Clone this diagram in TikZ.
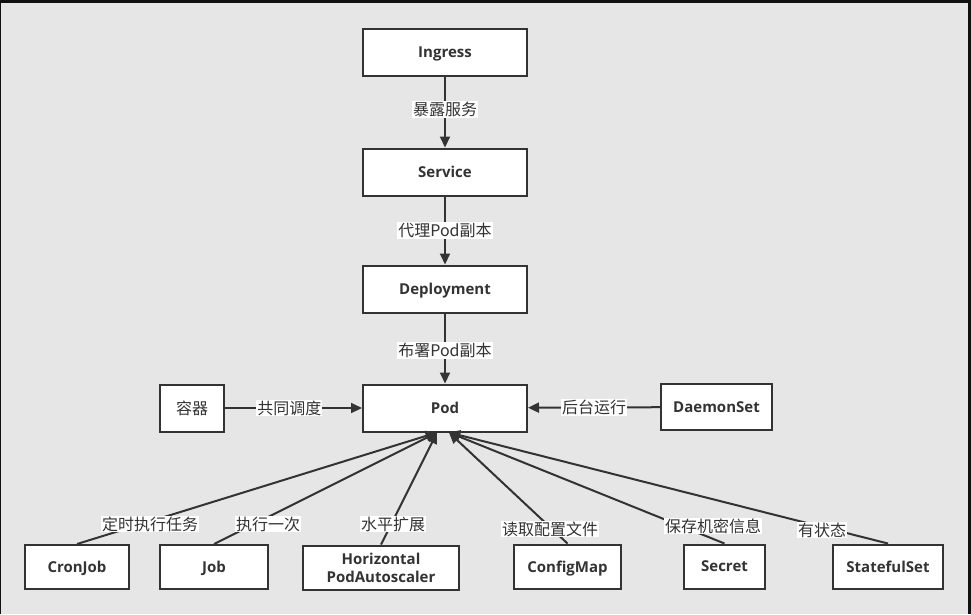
\documentclass[tikz,border=0pt]{standalone}
\usepackage{fontspec}
\setmainfont{Open Sans}
\newfontfamily\cjk{Noto Sans CJK SC}
\usetikzlibrary{arrows.meta}
\definecolor{bg}{HTML}{E6E6E6}
\definecolor{ln}{HTML}{333333}
\definecolor{frame}{HTML}{111111}
\begin{document}
\begin{tikzpicture}[x=1pt,y=-1pt,
  box/.style={draw=ln, line width=2pt, fill=white, inner sep=0pt, text=ln, align=center,
    font=\bfseries\fontsize{15}{18}\selectfont},
  onel/.style={text depth=0.5pt},
  topbox/.style={box, onel, minimum width=164pt, minimum height=47pt},
  botbox/.style={box, minimum height=44pt},
  lbl/.style={fill=white, inner sep=1pt, text=ln, font=\cjk\fontsize{16}{18}\selectfont},
  conn/.style={draw=ln, line width=2pt, -{Triangle[length=11pt,width=10pt]}}]
\fill[bg] (0,0) rectangle (971,614);
\fill[frame] (0,0) rectangle (971,3);
\fill[frame] (968,0) rectangle (971,614);
\fill[frame] (0,0) rectangle (1.2,614);
\useasboundingbox (0,0) rectangle (971,614);

\node[topbox] (ing) at (445,52) {Ingress};
\node[topbox] (svc) at (445,172) {Service};
\node[topbox] (dep) at (445,289) {Deployment};
\node[topbox] (pod) at (445,408) {Pod};
\node[box, minimum width=64pt, minimum height=47pt, font=\cjk\mdseries\fontsize{16}{18}\selectfont] (ctr) at (192,408) {容器};
\node[box, onel, minimum width=111pt, minimum height=46pt] (ds) at (716.5,407) {DaemonSet};

\node[botbox, onel, minimum width=104pt] (cron) at (77,567) {CronJob};
\node[botbox, onel, minimum width=108pt] (job) at (214,567) {Job};
\node[botbox, minimum width=156pt] (hpa) at (381,567.5) {Horizontal\\PodAutoscaler};
\node[botbox, onel, minimum width=107pt] (cm) at (567.5,566.5) {ConfigMap};
\node[botbox, onel, minimum width=81pt] (sec) at (724.5,566.5) {Secret};
\node[botbox, onel, minimum width=110pt] (sts) at (888,566.5) {StatefulSet};

\coordinate (pl) at ([xshift=-8pt]pod.south);
\coordinate (pr) at ([xshift=4pt]pod.south);

\draw[conn] (ing) -- node[lbl, pos=0.46] {暴露服务} (svc);
\draw[conn] (svc) -- node[lbl, pos=0.5] {代理Pod副本} (dep);
\draw[conn] (dep) -- node[lbl, pos=0.53] {布署Pod副本} (pod);
\draw[conn] (ctr) -- node[lbl, pos=0.47] {共同调度} (pod);
\draw[conn] (ds) -- node[lbl, pos=0.5] {后台运行} (pod);

\draw[conn] (cron.north) -- (pl);
\draw[conn] (job.north) -- (pl);
\draw[conn] (hpa.north) -- (pl);
\draw[conn] (cm.north) -- (pr);
\draw[conn] (sec.north) -- (pr);
\draw[conn] (sts.north) -- (pr);

\node[lbl] (lcron) at (150,524) {定时执行任务};
\node[lbl] (ljob) at (268,524) {执行一次};
\node[lbl] (lhpa) at (393,524) {水平扩展};
\node[lbl] (lcm) at (550,529) {读取配置文件};
\node[lbl] (lsec) at (713,526) {保存机密信息};
\node[lbl] (lsts) at (822,530) {有状态};
\end{tikzpicture}
\end{document}
